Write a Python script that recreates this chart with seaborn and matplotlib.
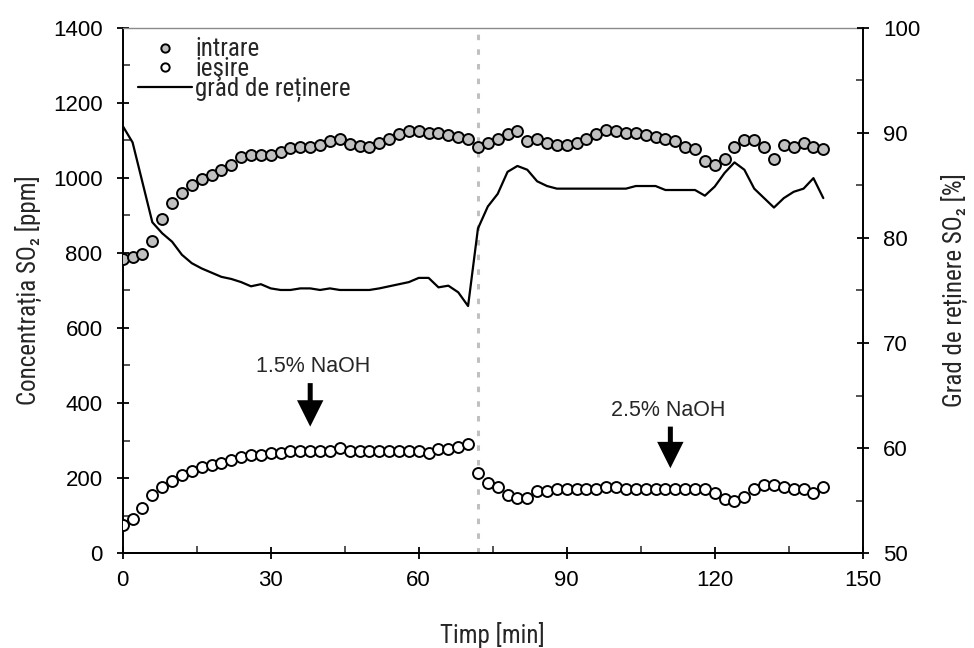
import numpy as np
import pandas as pd
import matplotlib
matplotlib.use("Agg")
import matplotlib.pyplot as plt
from matplotlib.lines import Line2D
from matplotlib.ticker import MultipleLocator
from matplotlib import font_manager as fm
from matplotlib.ft2font import FT2Font
import seaborn as sns

# ---------------- data ----------------
timp = list(range(0, 144, 2))

intrare = [784, 790, 796, 832, 891, 932, 959, 980, 997, 1009, 1020, 1035,
           1057, 1061, 1061, 1061, 1068, 1079, 1083, 1083, 1088, 1099, 1105, 1090,
           1084, 1082, 1094, 1105, 1116, 1126, 1126, 1121, 1121, 1115, 1109, 1104,
           1082, 1094, 1105, 1116, 1125, 1099, 1105, 1094, 1089, 1089, 1094, 1105,
           1116, 1127, 1125, 1119, 1119, 1115, 1109, 1104, 1099, 1083, 1076, 1045,
           1035, 1050, 1082, 1102, 1102, 1082, 1051, 1088, 1082, 1093, 1082, 1076]

iesire = [75, 92, 119, 155, 175, 193, 208, 219, 230, 236, 241, 248,
          257, 261, 261, 266, 268, 273, 273, 273, 273, 273, 279, 273,
          273, 272, 272, 272, 272, 272, 272, 266, 277, 277, 283, 292,
          214, 186, 176, 155, 148, 148, 166, 166, 172, 172, 172, 172,
          172, 176, 175, 170, 170, 170, 170, 170, 170, 170, 170, 170,
          159, 143, 139, 150, 170, 181, 181, 175, 170, 170, 159, 175]

grad = [90.67, 89.1, 85.3, 81.5, 80.45, 79.65, 78.4, 77.6, 77.1, 76.7, 76.3, 76.1,
        75.8, 75.4, 75.6, 75.2, 75.05, 75.05, 75.2, 75.2, 75.05, 75.2, 75.05, 75.05,
        75.05, 75.05, 75.2, 75.4, 75.6, 75.8, 76.2, 76.2, 75.3, 75.46, 74.83, 73.52,
        80.9, 83.0, 84.2, 86.3, 86.86, 86.5, 85.4, 84.95, 84.7, 84.7, 84.7, 84.7,
        84.7, 84.7, 84.7, 84.7, 84.95, 84.95, 84.95, 84.57, 84.57, 84.57, 84.57, 84.03,
        84.9, 86.2, 87.2, 86.5, 84.7, 83.8, 82.9, 83.8, 84.4, 84.7, 85.7, 83.8]

t_switch = 72
labels = ["intrare", "ieşire", "grad de reținere"]

df = pd.DataFrame({"timp": timp, "intrare": intrare, "iesire": iesire, "grad": grad})

# ---------------- fonts ----------------
sns.set_style("ticks")
plt.rcParams["font.family"] = ["Liberation Sans", "DejaVu Sans"]
plt.rcParams["mathtext.fontset"] = "custom"
plt.rcParams["mathtext.rm"] = "Liberation Sans"


def pick_condensed():
    pref = ["Liberation Sans Narrow", "Roboto Condensed", "Noto Sans Condensed",
            "Noto Sans", "Open Sans Condensed", "Open Sans", "DejaVu Sans Condensed",
            "DejaVu Sans"]
    cands = []
    for f in fm.fontManager.ttflist:
        narrow = f.stretch in ("condensed", "semi-condensed", "extra-condensed") or \
            "Narrow" in f.name or "Condensed" in f.name
        w = f.weight if isinstance(f.weight, int) else {"normal": 400, "regular": 400}.get(str(f.weight), 700)
        if narrow and f.style == "normal" and w == 400:
            rank = pref.index(f.name) if f.name in pref else len(pref)
            cands.append((rank, f.fname, f))
    if not cands:
        return None
    cands.sort(key=lambda c: (c[0], c[1]))
    return cands[0][2]


cond = pick_condensed()
use_unicode_sub = False
if cond is not None:
    try:
        ft = FT2Font(cond.fname)
        use_unicode_sub = all(ft.get_char_index(c) != 0 for c in (0x2082, 0x021B))
    except Exception:
        use_unicode_sub = False


def label_prop(size):
    if cond is not None and use_unicode_sub:
        return fm.FontProperties(fname=cond.fname, size=size)
    return fm.FontProperties(family=["Liberation Sans", "DejaVu Sans"], size=size)


if cond is not None and use_unicode_sub:
    ylab_left = "Concentrația SO\u2082 [ppm]"
    ylab_right = "Grad de reținere SO\u2082 [%]"
    lab_size = 18
else:
    ylab_left = r"Concentrația SO$_\mathrm{2}$ [ppm]"
    ylab_right = r"Grad de reținere SO$_\mathrm{2}$ [%]"
    lab_size = 17

# ---------------- figure ----------------
fig = plt.figure(figsize=(9.74, 6.48), dpi=100)
ax = fig.add_axes([0.126, 0.1466, 0.7598, 0.8102])
ax2 = ax.twinx()

ax.axvline(t_switch, color="#c0c0c0", lw=2.2, ls=(0, (1.8, 3.0)), zorder=1)

sns.scatterplot(data=df, x="timp", y="intrare", ax=ax, color="#c0c0c0",
                edgecolor="black", linewidth=1.4, s=62, zorder=3, legend=False)
sns.scatterplot(data=df, x="timp", y="iesire", ax=ax, color="white",
                edgecolor="black", linewidth=1.4, s=62, zorder=3, legend=False)
sns.lineplot(data=df, x="timp", y="grad", ax=ax2, color="black", lw=1.6,
             legend=False)

ax.set_xlim(0, 150)
ax.set_ylim(0, 1400)
ax2.set_ylim(50, 100)

ax.xaxis.set_major_locator(MultipleLocator(30))
ax.xaxis.set_minor_locator(MultipleLocator(15))
ax.yaxis.set_major_locator(MultipleLocator(200))
ax.yaxis.set_minor_locator(MultipleLocator(100))
ax2.yaxis.set_major_locator(MultipleLocator(10))
ax2.yaxis.set_minor_locator(MultipleLocator(5))

for a in (ax, ax2):
    a.tick_params(which="major", direction="inout", length=9, width=1.3,
                  labelsize=16, colors="black")
    a.tick_params(which="minor", direction="in", length=5, width=1.1)
ax.tick_params(axis="y", which="major", pad=10)
ax.tick_params(axis="x", which="major", pad=8)
ax2.tick_params(axis="y", which="major", pad=10)

for a in (ax, ax2):
    for s in ("left", "right", "bottom"):
        a.spines[s].set_color("black")
        a.spines[s].set_linewidth(1.4)
ax.spines["top"].set_visible(True)
ax.spines["top"].set_color("#8a8a8a")
ax.spines["top"].set_linewidth(1.0)
ax2.spines["top"].set_visible(False)
ax.spines["right"].set_visible(False)
ax2.spines["left"].set_visible(False)

ax.set_xlabel("Timp [min]", fontproperties=label_prop(lab_size), labelpad=22)
ax.set_ylabel(ylab_left, fontproperties=label_prop(lab_size), labelpad=8)
ax2.set_ylabel(ylab_right, fontproperties=label_prop(lab_size), labelpad=15)

# annotations
ax.text(38.5, 497, "1.5% NaOH", ha="center", va="center", fontsize=15.5)
ax.text(110.5, 381, "2.5% NaOH", ha="center", va="center", fontsize=15.5)
arrow_style = "simple,head_length=1.9,head_width=1.9,tail_width=0.36"
ax.annotate("", xy=(38, 337), xytext=(38, 453),
            arrowprops=dict(arrowstyle=arrow_style, mutation_scale=10,
                            fc="black", ec="black", lw=0, shrinkA=0, shrinkB=0))
ax.annotate("", xy=(111, 226), xytext=(111, 337),
            arrowprops=dict(arrowstyle=arrow_style, mutation_scale=10,
                            fc="black", ec="black", lw=0, shrinkA=0, shrinkB=0))

handles = [
    Line2D([], [], marker="o", ls="none", mfc="#c0c0c0", mec="black", ms=6, mew=1.4),
    Line2D([], [], marker="o", ls="none", mfc="white", mec="black", ms=6, mew=1.4),
    Line2D([], [], color="black", lw=1.6),
]
leg = ax2.legend(handles, labels, loc="upper left", bbox_to_anchor=(0.021, 0.982),
                 frameon=False, borderpad=0, borderaxespad=0, handlelength=2.15,
                 handletextpad=0.12, labelspacing=-0.17, prop=label_prop(18))

fig.savefig("out.png", dpi=100)
